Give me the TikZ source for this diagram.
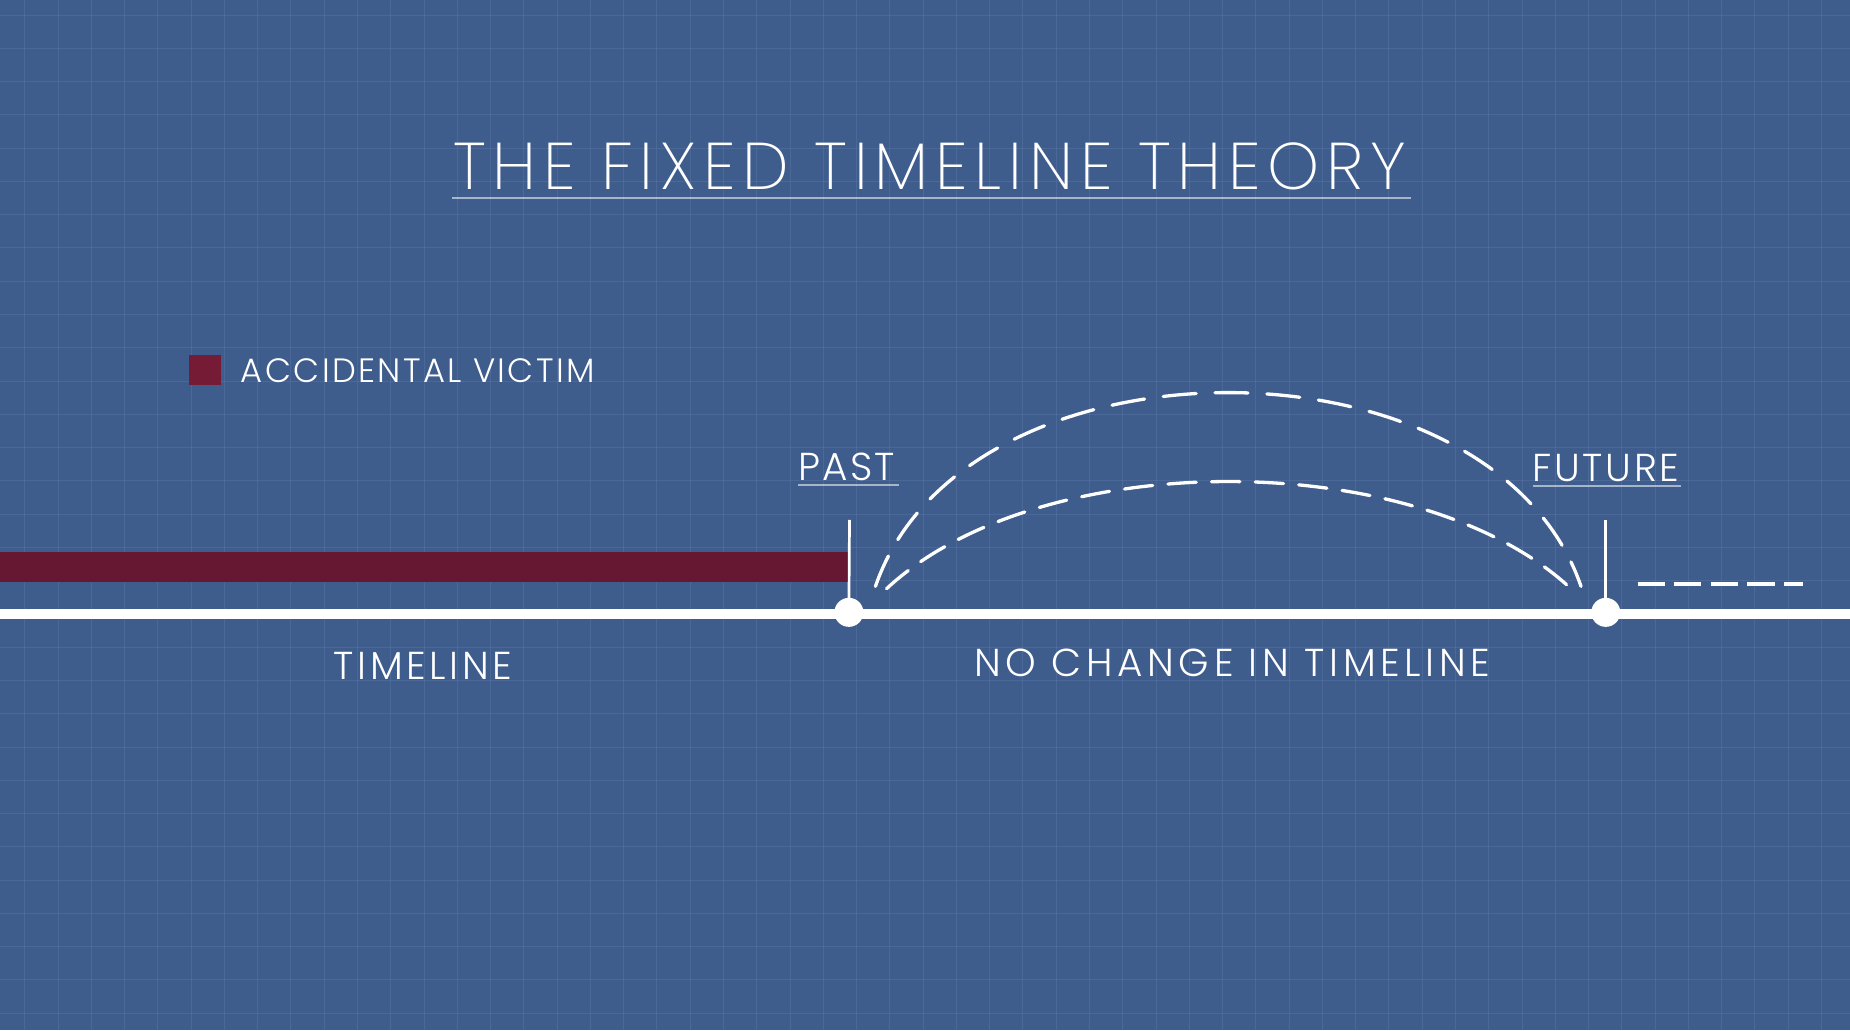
\documentclass[tikz,border=0pt]{standalone}
\usepackage{fontspec}
\setmainfont{Poppins}[UprightFont={* Light}]
\newfontfamily\thinfont{Poppins}[UprightFont={* ExtraLight}]
\definecolor{bg}{RGB}{62,92,140}
\definecolor{gridc}{RGB}{88,118,165}
\definecolor{victim}{RGB}{102,24,50}
\definecolor{victimsq}{RGB}{118,27,54}
\tikzset{
  lbl/.style={text=white, inner sep=0pt, anchor=base},
  uline/.style={draw=white, draw opacity=0.55, line width=1.4pt},
  tickline/.style={draw=white, line width=2.3pt},
  dotnode/.style={circle, fill=white, minimum size=24.6pt, inner sep=0pt},
  jump/.style={draw=white, line width=2.8pt, line cap=round},
}
\begin{document}
\begin{tikzpicture}[x=1pt,y=-1pt]
\useasboundingbox (0,0) rectangle (1568,873);
\fill[bg] (0,0) rectangle (1568,873);
% grid
\foreach \i in {0,...,55} {\draw[gridc, line width=0.8pt, opacity=0.5] ({21+28.2*\i},0) -- ({21+28.2*\i},873);}
\foreach \j in {0,...,30} {\draw[gridc, line width=0.8pt, opacity=0.5] (0,{12.7+28.2*\j}) -- (1568,{12.7+28.2*\j});}
% title
\node[lbl, font=\thinfont\fontsize{56}{60}\selectfont\addfontfeatures{LetterSpace=10.3}] (title) at (788,161) {THE FIXED TIMELINE THEORY};
\coordinate (tl1) at (383,168); \coordinate (tl2) at (1196,168);
\draw[uline] (tl1) -- (tl2);
% legend
\node[fill=victimsq, minimum width=27pt, minimum height=25pt, inner sep=0pt, anchor=north west] (legsq) at (160,301) {};
\node[lbl, anchor=base west, font=\fontsize{28.6}{30}\selectfont\addfontfeatures{LetterSpace=7}] (legtxt) at (204,324) {ACCIDENTAL VICTIM};
% red bar
\fill[victim] (0,467.5) rectangle (719,493);
% timeline
\coordinate (tlstart) at (0,520);
\coordinate (tlend) at (1568,520);
\draw[white, line width=8.5pt] (tlstart) -- (tlend);
% past and future
\node[dotnode] (past) at (719.5,519) {};
\node[dotnode] (future) at (1361,519) {};
\coordinate (pasttop) at (720,440.7);
\coordinate (futtop) at (1361,441);
\draw[tickline] (pasttop) -- (past.center);
\draw[tickline] (futtop) -- (future.center);
\node[lbl, font=\fontsize{33}{35}\selectfont\addfontfeatures{LetterSpace=6}] (pastlbl) at (717.5,407) {PAST};
\coordinate (pu1) at (676,411); \coordinate (pu2) at (762,411);
\draw[uline] (pu1) -- (pu2);
\node[lbl, font=\fontsize{33}{35}\selectfont\addfontfeatures{LetterSpace=7}] (futlbl) at (1361,408) {FUTURE};
\coordinate (fu1) at (1299,412); \coordinate (fu2) at (1425,412);
\draw[uline] (fu1) -- (fu2);
% jumps
\coordinate (o1) at (742,497); \coordinate (o2) at (1340,497);
\coordinate (i1) at (751.4,499); \coordinate (i2) at (1330.5,498);
\draw[jump, dash pattern=on 28pt off 16pt] (o1) .. controls (817,278) and (1265,278) .. (o2);
\draw[jump, dash pattern=on 24pt off 13pt] (i1) .. controls (881,378) and (1200,378) .. (i2);
% continuation
\coordinate (c1) at (1388,495); \coordinate (c2) at (1528,495);
\draw[white, line width=2.8pt, dash pattern=on 23pt off 8pt] (c1) -- (c2);
% labels below
\node[lbl, font=\fontsize{33}{35}\selectfont\addfontfeatures{LetterSpace=9.5}] (tllbl) at (358.5,576) {TIMELINE};
\node[lbl, font=\fontsize{33}{35}\selectfont\addfontfeatures{LetterSpace=12}] (nochg) at (1044.5,573) {NO CHANGE IN TIMELINE};
\end{tikzpicture}
\end{document}
